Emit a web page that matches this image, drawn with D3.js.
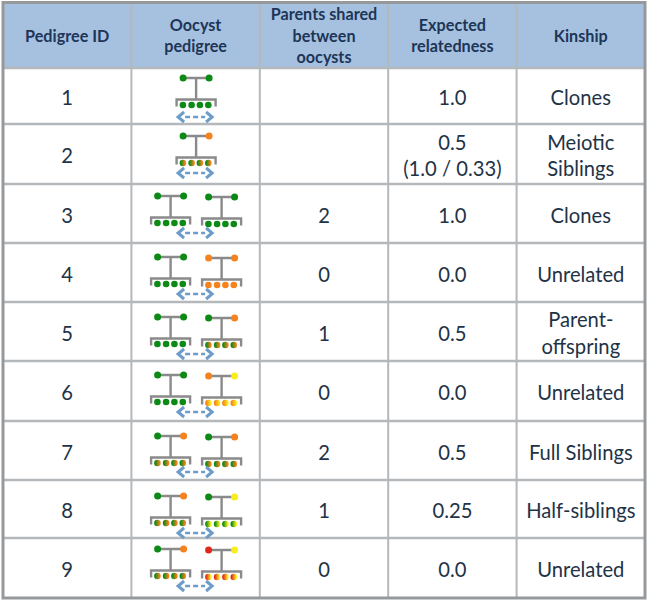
<!DOCTYPE html>
<html>
<head>
<meta charset="utf-8">
<script src="https://cdn.jsdelivr.net/npm/d3@7"></script>
<style>
    html, body { margin: 0; padding: 0; background: #fff; }
    svg { display: block; font-family: Lato, "Open Sans", sans-serif; }
    .head { font-size: 16.2px; font-weight: 700; fill: #1d3557; }
    .cell { font-size: 20.2px; fill: #1f3347; }
</style>
</head>
<body>
<div id="chart"></div>
<script>
const headers = [
    ["Pedigree ID"],
    ["Oocyst", "pedigree"],
    ["Parents shared", "between", "oocysts"],
    ["Expected", "relatedness"],
    ["Kinship"]
];
const pedigreeIds = ["1", "2", "3", "4", "5", "6", "7", "8", "9"];
const parentsShared = ["", "", "2", "0", "1", "0", "2", "1", "0"];
const relatedness = [["1.0"], ["0.5", "(1.0 / 0.33)"], ["1.0"], ["0.0"], ["0.5"], ["0.0"], ["0.5"], ["0.25"], ["0.0"]];
const kinship = [
    ["Clones"], ["Meiotic", "Siblings"], ["Clones"], ["Unrelated"], ["Parent-", "offspring"],
    ["Unrelated"], ["Full Siblings"], ["Half-siblings"], ["Unrelated"]
];

// each oocyst is [parent A, parent B]
const oocysts = [
    [["g", "g"]],
    [["g", "o"]],
    [["g", "g"], ["g", "g"]],
    [["g", "g"], ["o", "o"]],
    [["g", "g"], ["g", "o"]],
    [["g", "g"], ["o", "y"]],
    [["g", "o"], ["g", "o"]],
    [["g", "o"], ["g", "y"]],
    [["g", "o"], ["r", "y"]]
];
const parentColors = { g: "#0a8a12", o: "#f5821f", y: "#f7ee1e", r: "#e3281c" };

const width = 648, height = 601;

// row edges and glyph offsets were measured on the picture, rows are not quite equal
const rowEdges = [68, 124, 184, 243, 302, 361, 421, 480, 538, 598];
const parentDy = [10, 12, 12, 14, 15, 14, 15, 16, 11];
const arrowDy = [49, 49, 49, 51, 52, 51, 51, 53, 48];

const x = d3.scaleLinear().domain([0, 5]).range([3, 645]);
const lineH = 26.5;

const svg = d3.select("#chart").append("svg")
    .attr("width", width)
    .attr("height", height);

const defs = svg.append("defs");
defs.append("filter").attr("id", "soft")
    .attr("x", "-10%").attr("y", "-10%").attr("width", "120%").attr("height", "120%")
    .append("feGaussianBlur").attr("stdDeviation", 0.45);

// offspring of a mixed cross get a left to right blend of both parents
function blendId(a, b) {
    let id = "blend-" + a + b;
    if (defs.select("#" + id).empty()) {
        let grad = defs.append("linearGradient").attr("id", id);
        grad.append("stop").attr("offset", "15%").attr("stop-color", parentColors[a]);
        grad.append("stop").attr("offset", "85%").attr("stop-color", parentColors[b]);
    }
    return "url(#" + id + ")";
}

// header band and cells
svg.append("rect")
    .attr("x", x(0)).attr("y", 3)
    .attr("width", x(5) - x(0)).attr("height", rowEdges[0] - 3)
    .attr("fill", "#a6c1e0");

rowEdges.slice(0, -1).forEach(y => {
    svg.append("line")
        .attr("x1", x(0)).attr("x2", x(5))
        .attr("y1", y).attr("y2", y)
        .attr("stroke", "#b5b8bb").attr("stroke-width", 2.5);
});
d3.range(1, 5).forEach(i => {
    svg.append("line")
        .attr("x1", x(i)).attr("x2", x(i))
        .attr("y1", 3).attr("y2", rowEdges[rowEdges.length - 1])
        .attr("stroke", "#b5b8bb").attr("stroke-width", 2);
});
svg.append("rect")
    .attr("x", x(0)).attr("y", 2.5)
    .attr("width", x(5) - x(0)).attr("height", rowEdges[rowEdges.length - 1] - 2.5)
    .attr("fill", "none")
    .attr("stroke", "#96999c").attr("stroke-width", 3);

function stacked(g, lines, cx, cy, step, cls) {
    lines.forEach((t, i) => {
        g.append("text")
            .attr("class", cls)
            .attr("x", cx)
            .attr("y", cy + (i - (lines.length - 1) / 2) * step)
            .attr("dy", "0.35em")
            .attr("text-anchor", "middle")
            .text(t);
    });
}

headers.forEach((lines, i) => {
    stacked(svg, lines, (x(i) + x(i + 1)) / 2, 36, 21.5, "head");
});

pedigreeIds.forEach((id, r) => {
    let cy = (rowEdges[r] + rowEdges[r + 1]) / 2 + 2;
    let colText = [[id], null, parentsShared[r] ? [parentsShared[r]] : [], relatedness[r], kinship[r]];
    colText.forEach((lines, c) => {
        if (lines) stacked(svg, lines, (x(c) + x(c + 1)) / 2, cy, lineH, "cell");
    });
});

// one cross: parents, stem, bracket, four offspring
function drawOocyst(g, cx, top, pair) {
    let [a, b] = pair;
    let offspring = a === b ? parentColors[a] : blendId(a, b);
    let bracketY = top + 21.5;

    g.append("path")
        .attr("d", `M${cx - 13},${top}H${cx + 13}M${cx},${top}V${bracketY}M${cx - 19.5},${bracketY + 7}V${bracketY}H${cx + 19.5}V${bracketY + 7}`)
        .attr("fill", "none")
        .attr("stroke", "#8a8a8a")
        .attr("stroke-width", 2.4);

    [[-13, a], [13, b]].forEach(([dx, k]) => {
        g.append("circle").attr("cx", cx + dx).attr("cy", top).attr("r", 3.5).attr("fill", parentColors[k]);
    });
    [-13.2, -4.5, 3.8, 12.2].forEach(dx => {
        g.append("circle").attr("cx", cx + dx).attr("cy", top + 27).attr("r", 3.3).attr("fill", offspring);
    });
}

function drawArrow(g, cx, y) {
    g.append("path")
        .attr("d", `M${cx - 10},${y}H${cx + 10}`)
        .attr("stroke", "#6d9ccb").attr("stroke-width", 2.6)
        .attr("stroke-dasharray", "5 3");
    g.append("path")
        .attr("d", `M${cx - 11},${y - 5}L${cx - 17},${y}L${cx - 11},${y + 5}M${cx + 11},${y - 5}L${cx + 17},${y}L${cx + 11},${y + 5}`)
        .attr("fill", "none")
        .attr("stroke", "#6d9ccb").attr("stroke-width", 3);
}

oocysts.forEach((pairs, r) => {
    let g = svg.append("g").attr("filter", "url(#soft)");
    let top = rowEdges[r] + parentDy[r];
    let mid = (x(1) + x(2)) / 2;
    if (pairs.length === 1) {
        drawOocyst(g, mid + 0.5, top, pairs[0]);
    } else {
        drawOocyst(g, mid - 25, top, pairs[0]);
        drawOocyst(g, mid + 26, top + 1, pairs[1]);
    }
    drawArrow(g, mid - 0.5, rowEdges[r] + arrowDy[r]);
});
</script>
</body>
</html>
